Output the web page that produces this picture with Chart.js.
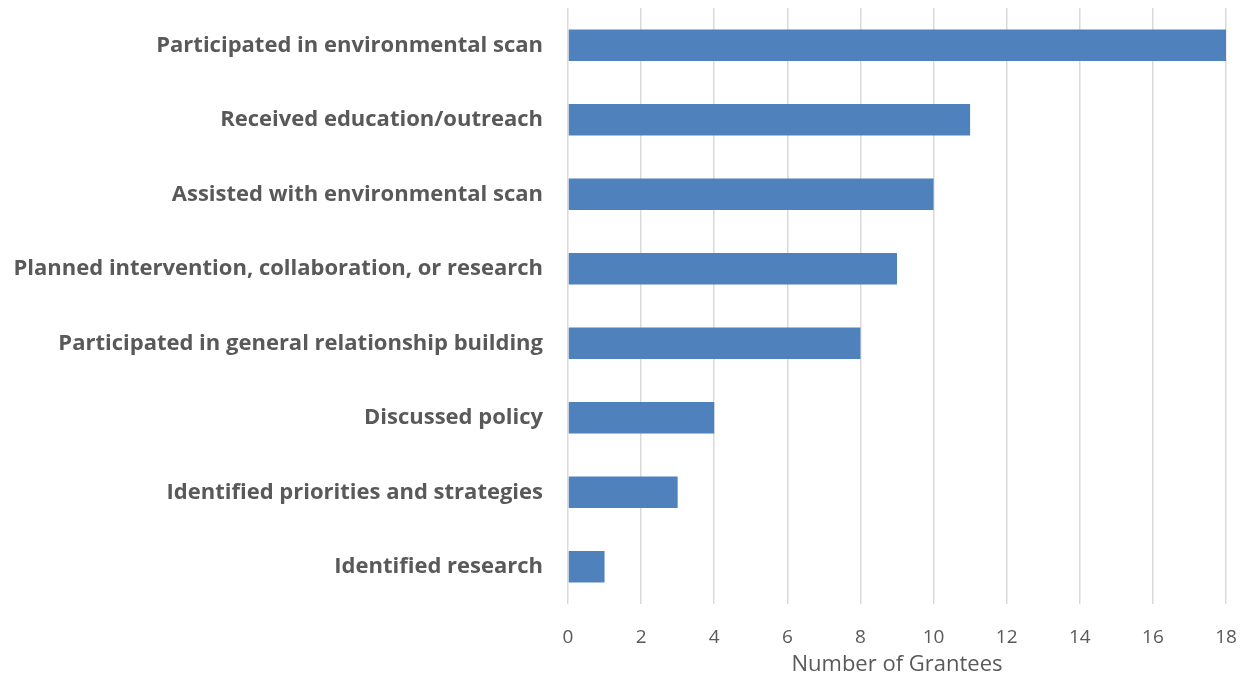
<!DOCTYPE html>
<html>
<head>
<meta charset="utf-8">
<script src="https://cdn.jsdelivr.net/npm/chart.js@4.4.0/dist/chart.umd.min.js"></script>
<style>
  body { margin: 0; background: #fff; }
  #wrap { width: 1248px; height: 682px; }
</style>
</head>
<body>
<div id="wrap"><canvas id="chart" width="1248" height="682"></canvas></div>
<script>
// activities and how many grantees did each
var activities = [
  'Participated in environmental scan',
  'Received education/outreach',
  'Assisted with environmental scan',
  'Planned intervention, collaboration, or research',
  'Participated in general relationship building',
  'Discussed policy',
  'Identified priorities and strategies',
  'Identified research'
];
var grantees = [18, 11, 10, 9, 8, 4, 3, 1];
var axisTitle = 'Number of Grantees';

var ctx = document.getElementById('chart').getContext('2d');

new Chart(ctx, {
  type: 'bar',
  data: {
    labels: activities,
    datasets: [{
      data: grantees,
      backgroundColor: '#4f81bd',
      barPercentage: 0.42,
      categoryPercentage: 1.0
    }]
  },
  options: {
    indexAxis: 'y',
    responsive: false,
    animation: false,
    layout: { padding: { top: 8, right: 22, bottom: 0, left: 0 } },
    plugins: {
      legend: { display: false },
      tooltip: { enabled: false }
    },
    scales: {
      x: {
        min: 0,
        max: 18,
        ticks: {
          stepSize: 2,
          color: '#595959',
          padding: 22,
          font: { family: 'Open Sans', size: 19 }
        },
        grid: { color: '#d9d9d9', lineWidth: 1.5, drawTicks: false },
        border: { display: false },
        title: {
          display: true,
          text: axisTitle,
          color: '#595959',
          padding: { top: 4 },
          font: { family: 'Open Sans', size: 22 }
        },
        afterFit: function(scale) {
          scale.height = 78;
          scale.paddingLeft = 0;
          scale.paddingRight = 0;
        }
      },
      y: {
        ticks: {
          color: '#595959',
          padding: 17,
          font: { family: 'Open Sans', size: 22, weight: 'bold' }
        },
        grid: { display: false },
        border: { display: false },
        afterFit: function(scale) {
          scale.width = 568;
          scale.paddingTop = 0;
          scale.paddingBottom = 0;
        }
      }
    }
  }
});
</script>
</body>
</html>
